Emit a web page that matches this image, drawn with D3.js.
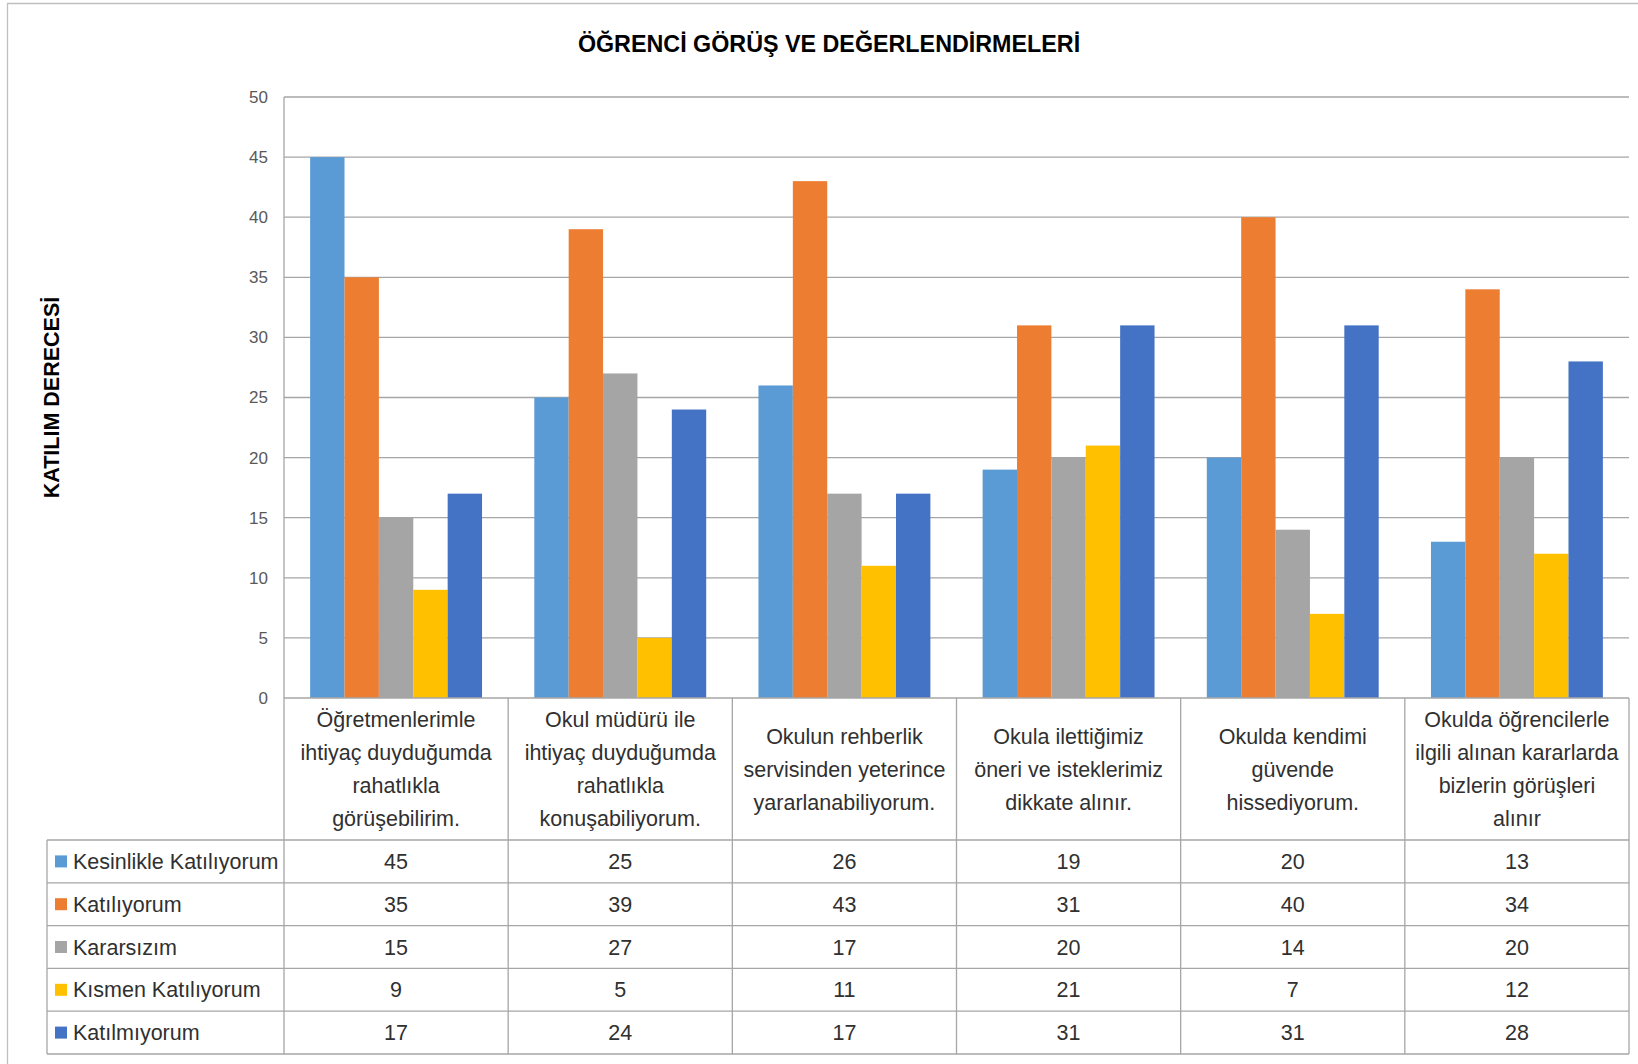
<!DOCTYPE html>
<html>
<head>
<meta charset="utf-8">
<script src="https://cdn.jsdelivr.net/npm/d3@7"></script>
<style>
  body { margin: 0; background: #fff; }
  svg { display: block; font-family: "Liberation Sans", Arial, sans-serif; }
</style>
</head>
<body>
<svg id="chart"></svg>
<script>
// [A] Datos ------------------------------------------------------------------
const categories = [
  ["Öğretmenlerimle", "ihtiyaç duyduğumda", "rahatlıkla", "görüşebilirim."],
  ["Okul müdürü ile", "ihtiyaç duyduğumda", "rahatlıkla", "konuşabiliyorum."],
  ["Okulun rehberlik", "servisinden yeterince", "yararlanabiliyorum."],
  ["Okula ilettiğimiz", "öneri ve isteklerimiz", "dikkate alınır."],
  ["Okulda kendimi", "güvende", "hissediyorum."],
  ["Okulda öğrencilerle", "ilgili alınan kararlarda", "bizlerin görüşleri", "alınır"]
];
const seriesNames = ["Kesinlikle Katılıyorum", "Katılıyorum", "Kararsızım", "Kısmen Katılıyorum", "Katılmıyorum"];
const kesinlikleKatiliyorum = [45, 25, 26, 19, 20, 13];
const katiliyorum = [35, 39, 43, 31, 40, 34];
const kararsizim = [15, 27, 17, 20, 14, 20];
const kismenKatiliyorum = [9, 5, 11, 21, 7, 12];
const katilmiyorum = [17, 24, 17, 31, 31, 28];
const seriesValues = [kesinlikleKatiliyorum, katiliyorum, kararsizim, kismenKatiliyorum, katilmiyorum];
const yTicks = [0, 5, 10, 15, 20, 25, 30, 35, 40, 45, 50];
const colors = ["#5B9BD5", "#ED7D31", "#A5A5A5", "#FFC000", "#4472C4"];

// [B] Configuracion ----------------------------------------------------------
const width = 1638;
const height = 1064;
const plot = { left: 284, right: 1629, top: 97, bottom: 698 };
const tableLeft = 47;
const tableTop = 840;
const tableBottom = 1054;
const gridColor = "#a6a6a6";
const textColor = "#303030";
const fontSize = 21.5;

const svg = d3.select("#chart").attr("width", width).attr("height", height);

// marco exterior (solo izquierda y arriba quedan dentro de la imagen)
svg.append("path")
  .attr("d", `M7.5,${height} V3.5 H${width}`)
  .attr("fill", "none").attr("stroke", "#bfbfbf").attr("stroke-width", 1.3);

// [C] Escalas ----------------------------------------------------------------
const catIdx = d3.range(categories.length);
const x0 = d3.scaleBand().domain(catIdx).range([plot.left, plot.right]);
const x1 = d3.scaleBand().domain(d3.range(seriesNames.length))
  .range([0, x0.bandwidth()]).paddingOuter(0.76);
const y = d3.scaleLinear().domain([0, 50]).range([plot.bottom, plot.top]);
const rowY = d3.scaleBand().domain(d3.range(seriesNames.length)).range([tableTop, tableBottom]);

// [D] Cuadricula y eje Y -----------------------------------------------------
svg.append("g").selectAll("line")
  .data(yTicks.filter(t => t > 0))
  .join("line")
  .attr("x1", plot.left).attr("x2", plot.right)
  .attr("y1", d => y(d)).attr("y2", d => y(d))
  .attr("stroke", gridColor).attr("stroke-width", 1.3);

const yAxis = svg.append("g")
  .attr("transform", `translate(${plot.left},0)`)
  .call(d3.axisLeft(y).tickValues(yTicks).tickSize(0).tickPadding(16));
yAxis.select(".domain").remove();
yAxis.selectAll("text")
  .attr("font-family", "Liberation Sans, sans-serif")
  .attr("font-size", 17).attr("fill", "#595959");

svg.append("text")
  .attr("transform", `translate(59,${(plot.top + plot.bottom) / 2}) rotate(-90)`)
  .attr("text-anchor", "middle")
  .attr("font-size", 21.5).attr("font-weight", "bold").attr("fill", "#000")
  .text("KATILIM DERECESİ");

// [E] Barras -----------------------------------------------------------------
svg.append("g").selectAll("g")
  .data(seriesValues)
  .join("g")
  .attr("fill", (d, i) => colors[i])
  .each(function (vals, si) {
    d3.select(this).selectAll("rect")
      .data(vals)
      .join("rect")
      .attr("x", (v, ci) => x0(ci) + x1(si))
      .attr("y", v => y(v))
      .attr("width", x1.bandwidth())
      .attr("height", v => y(0) - y(v));
  });

// [F] Tabla de datos ---------------------------------------------------------
const table = svg.append("g").attr("stroke", gridColor).attr("stroke-width", 1.3);
// linea base y filas
table.append("line")
  .attr("x1", plot.left).attr("x2", plot.right)
  .attr("y1", plot.bottom).attr("y2", plot.bottom);
table.selectAll("line.row")
  .data(d3.range(seriesNames.length + 1))
  .join("line").attr("class", "row")
  .attr("x1", tableLeft).attr("x2", plot.right)
  .attr("y1", i => i < seriesNames.length ? rowY(i) : tableBottom)
  .attr("y2", i => i < seriesNames.length ? rowY(i) : tableBottom);
// columnas
table.append("line")
  .attr("x1", tableLeft).attr("x2", tableLeft)
  .attr("y1", tableTop).attr("y2", tableBottom);
table.append("line")
  .attr("x1", plot.left).attr("x2", plot.left)
  .attr("y1", plot.top).attr("y2", tableBottom);
table.selectAll("line.col")
  .data(catIdx)
  .join("line").attr("class", "col")
  .attr("x1", ci => x0(ci) + x0.bandwidth()).attr("x2", ci => x0(ci) + x0.bandwidth())
  .attr("y1", plot.bottom).attr("y2", tableBottom);

// etiquetas de categoria
const lineH = 33;
const headMid = (plot.bottom + tableTop) / 2;
svg.append("g").selectAll("text")
  .data(categories)
  .join("text")
  .attr("text-anchor", "middle")
  .attr("font-size", fontSize).attr("fill", textColor)
  .each(function (lines, ci) {
    const top = headMid - (lines.length - 1) * lineH / 2;
    d3.select(this).selectAll("tspan")
      .data(lines)
      .join("tspan")
      .attr("x", x0(ci) + x0.bandwidth() / 2)
      .attr("y", (l, li) => top + li * lineH)
      .attr("dy", "0.35em")
      .text(l => l);
  });

// leyenda
const legend = svg.append("g").selectAll("g")
  .data(seriesNames)
  .join("g")
  .attr("transform", (d, i) => `translate(0,${rowY(i) + rowY.bandwidth() / 2})`);
legend.append("rect")
  .attr("x", 55).attr("y", -6).attr("width", 12).attr("height", 12)
  .attr("fill", (d, i) => colors[i]);
legend.append("text")
  .attr("x", 73).attr("dy", "0.35em")
  .attr("font-size", fontSize).attr("fill", textColor)
  .text(d => d);

// valores
svg.append("g").selectAll("g")
  .data(seriesValues)
  .join("g")
  .each(function (vals, si) {
    d3.select(this).selectAll("text")
      .data(vals)
      .join("text")
      .attr("x", (v, ci) => x0(ci) + x0.bandwidth() / 2)
      .attr("y", rowY(si) + rowY.bandwidth() / 2)
      .attr("dy", "0.35em")
      .attr("text-anchor", "middle")
      .attr("font-size", fontSize).attr("fill", textColor)
      .text(v => v);
  });

// [G] Titulo -----------------------------------------------------------------
svg.append("text")
  .attr("x", 829).attr("y", 44).attr("dy", "0.35em")
  .attr("text-anchor", "middle")
  .attr("font-size", 23.3).attr("font-weight", "bold").attr("fill", "#000")
  .text("ÖĞRENCİ GÖRÜŞ VE DEĞERLENDİRMELERİ");
</script>
</body>
</html>
